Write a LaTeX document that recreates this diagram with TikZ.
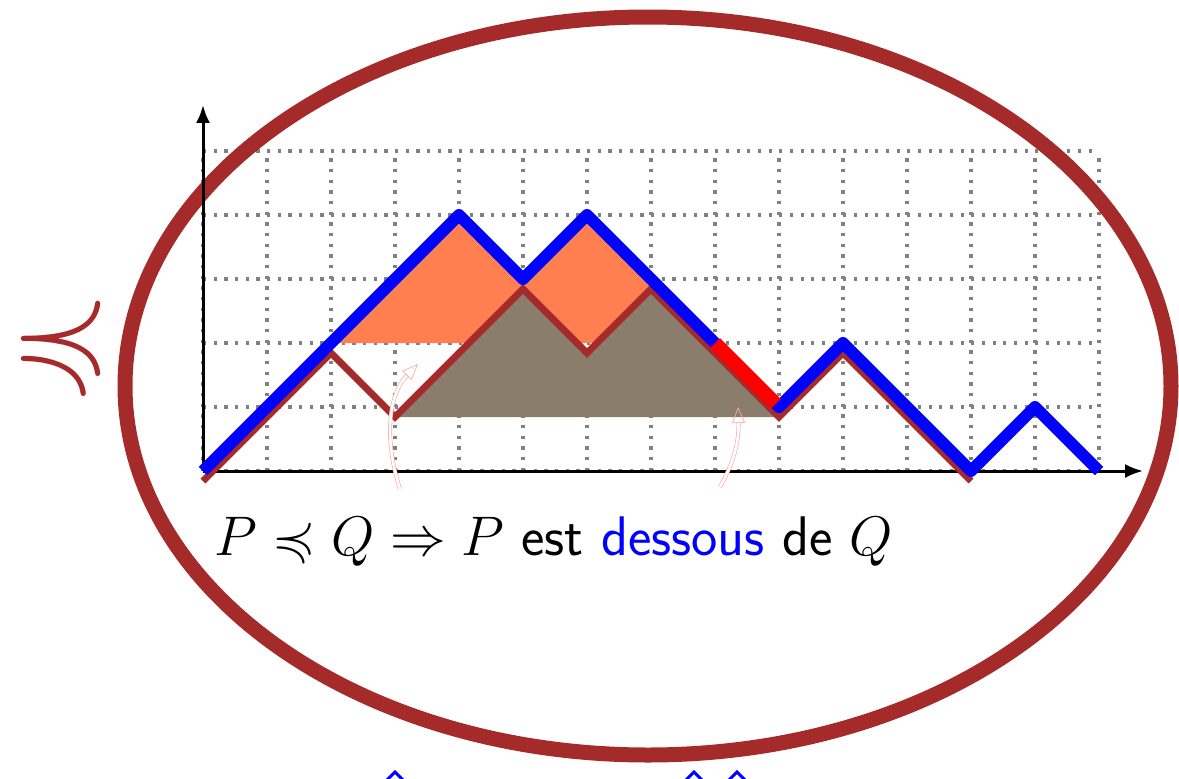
\documentclass[tikz,border=0pt]{standalone}
\usepackage{amssymb}
\usetikzlibrary{arrows.meta}
\definecolor{ebrown}{RGB}{165,42,42}
\definecolor{ecoral}{RGB}{255,127,80}
\definecolor{egrey}{RGB}{139,125,107}
\definecolor{epink}{RGB}{255,170,170}
\begin{document}
\begin{tikzpicture}[x=1pt,y=-1pt,
  gridline/.style={gray, line width=3.2pt, dash pattern=on 3.2pt off 7.47pt},
  axisline/.style={black, line width=3pt, -{Latex[length=18pt,width=14pt]}},
  pathQ/.style={blue, line width=12pt, line join=round},
  pathP/.style={ebrown, line width=7pt, line join=miter},
  hint/.style={draw=epink, double=white, line width=0.7pt, double distance=2.6pt,
     -{Triangle[open,length=16pt,width=13pt]}},
  hatmark/.style={blue, line width=3pt}]
\useasboundingbox (0,0) rectangle (1179,779);
\begin{scope}[shift={(203,471)}, x=64pt, y=64pt]
  \draw[gridline, step=1] (0,0) grid (14,5);
\end{scope}
\draw[ebrown, line width=15pt] (648,386) ellipse [x radius=523, y radius=369];
\begin{scope}[shift={(203,471)}, x=64pt, y=64pt]
  \coordinate (O) at (0,0);
  \coordinate (Ytip) at (0,5.72);
  \coordinate (Xtip) at (14.69,0);
  \draw[axisline] (O) -- (Ytip);
  \draw[axisline] (O) -- (Xtip);
  \fill[ecoral] (2,2) -- (4,4) -- (5,3) -- (6,4) -- (8,2) -- cycle;
  \begin{scope}[yshift=-10pt]
    \fill[egrey] (3,1) -- (5,3) -- (6,2) -- (7,3) -- (9,1) -- cycle;
    \draw[pathP] (0,0) -- (2,2) -- (3,1) -- (5,3) -- (6,2) -- (7,3) -- (9,1) -- (10,2) -- (12,0);
  \end{scope}
  \draw[pathQ] (0,0) -- (4,4) -- (5,3) -- (6,4) -- (9,1) -- (10,2) -- (12,0) -- (13,1) -- (14,0);
  \draw[red, line width=14pt] (8,2) -- (8.95,1.05);
\end{scope}
\coordinate (a1s) at (400,489);
\coordinate (a1e) at (418,364);
\coordinate (a2s) at (720,487);
\coordinate (a2e) at (738,407);
\draw[hint] (a1s) .. controls (384,440) and (388,395) .. (a1e);
\draw[hint] (a2s) .. controls (735,460) and (739,440) .. (a2e);
\node[anchor=base west, inner sep=0pt, scale=2.69, transform shape] (txt) at (214,555)
  {\huge $P \preccurlyeq Q \Rightarrow P$ \textsf{est \textcolor{blue}{dessous} de} $Q$};
\node[ebrown, inner sep=0pt] (sym) at (61,344) {\fontsize{130}{130}\selectfont $\preccurlyeq$};
\draw[hatmark] (386,781) -- (395,772) -- (404,781);
\draw[hatmark] (685,781) -- (694,772) -- (703,781);
\draw[hatmark] (728,781) -- (737,772) -- (746,781);
\end{tikzpicture}
\end{document}
